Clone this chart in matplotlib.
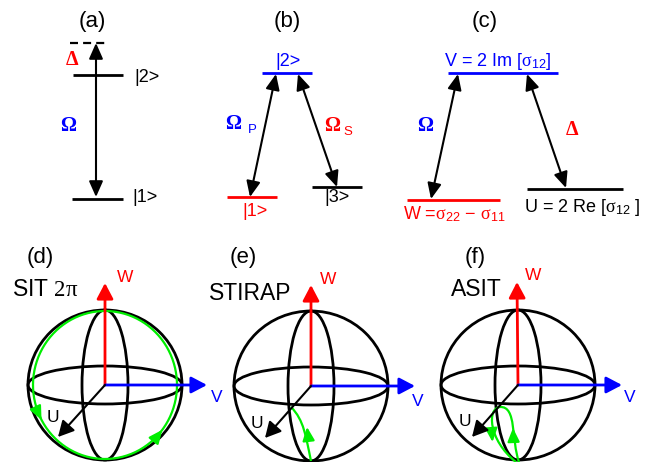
import numpy as np
import matplotlib.pyplot as plt
from matplotlib.patches import Ellipse, PathPatch
from matplotlib.path import Path

plt.rcParams['font.family'] = ['Liberation Sans', 'DejaVu Sans']
plt.rcParams['mathtext.fontset'] = 'custom'
plt.rcParams['mathtext.rm'] = 'Liberation Serif'
plt.rcParams['mathtext.sf'] = 'Liberation Sans'
plt.rcParams['mathtext.it'] = 'Liberation Serif:italic'
plt.rcParams['mathtext.bf'] = 'Liberation Serif:bold'

RED, BLUE, GREEN = '#ff0000', '#0000ff', '#00ee00'
SERIF = 'Liberation Serif'

# ---- level schemes (a), (b), (c): x start, x end, y, colour
levels = [
    (73, 123, 75, 'k'), (72, 123, 199, 'k'),
    (262, 312, 73, BLUE), (227, 277, 197, RED), (312, 362, 187, 'k'),
    (448, 558, 73, BLUE), (407, 500, 200, RED), (527, 623, 189, 'k'),
]
detuned_level = (70, 108, 43)

# double-headed couplings: upper end, lower end
couplings = [
    ((96, 43), (96, 197)),
    ((276, 74), (250, 197)), ((298, 74), (337, 187)),
    ((458, 74), (431, 199)), ((527, 74), (566, 188)),
]

panel_titles = [('(a)', 92, 21), ('(b)', 287, 22), ('(c)', 485, 22),
                ('(d)', 40, 258), ('(e)', 243, 258), ('(f)', 475, 258)]

state_labels = [
    ('|2>', 147, 77, 'k'), ('|1>', 145, 198, 'k'),
    ('|2>', 288, 62, BLUE), ('|1>', 255, 212, RED), ('|3>', 337, 198, 'k'),
    (r'V = 2 Im [$\mathrm{\sigma}_{\mathsf{12}}$]', 498, 61, BLUE),
    (r'W =$\mathrm{\sigma}_{\mathsf{22}}$ − $\mathrm{\sigma}_{\mathsf{11}}$', 454, 214, RED),
    (r'U = 2 Re [$\mathrm{\sigma}_{\mathsf{12}}$ ]', 582, 207, 'k'),
]

greek_labels = [
    ('Δ', 72, 60, RED), ('Ω', 68, 126, BLUE),
    ('Ω', 233, 124, BLUE), ('Ω', 332, 126, RED),
    ('Ω', 425, 126, BLUE), ('Δ', 572, 130, RED),
]
subscripts = [('P', 252, 130, BLUE), ('S', 348, 132, RED)]

# ---- Bloch spheres (d), (e), (f)
schemes = [('SIT $\\mathrm{2\\pi}$', 45, 290), ('STIRAP', 250, 293), ('ASIT', 476, 289)]
sphere_centers = [(105, 385), (311, 386), (518, 385)]
sphere_rx, sphere_ry = 77, 75
equator_ry = 19
meridian_rx = 23
w_tips = [(105, 283), (311, 285), (517, 282)]
v_tips = [(207, 385), (415, 386), (622, 385)]
u_tips = [(58, 437), (265, 438), (472, 437)]
w_labels = [(125, 278), (328, 280), (533, 275)]
v_labels = [(217, 398), (418, 401), (630, 397)]
u_labels = [(53, 417), (257, 423), (465, 422)]

# SIT 2pi: full loop through the poles
sit_center, sit_rx, sit_ry = (105, 385), 72, 74
sit_arrow_t = [2.65, 0.65]

# STIRAP: bottom pole -> (U) axis
stirap_path = [(311, 461), (306, 437), (304, 420), (291, 407)]
stirap_arrow = ((308.5, 440), (307, 427))

# ASIT: excursion and return
asit_path = [(519, 462), (511, 440), (517, 406), (500, 407),
             (487, 408), (488, 440), (516, 462)]
asit_arrows = [((513.5, 440), (513, 428)), ((491.5, 430), (492.5, 442))]

fig = plt.figure(figsize=(6.47, 4.62), dpi=100)
ax = fig.add_axes([0, 0, 1, 1])
ax.set_xlim(0, 647)
ax.set_ylim(462, 0)
ax.axis('off')

for x0, x1, y, c in levels:
    ax.plot([x0, x1], [y, y], color=c, lw=2, solid_capstyle='butt')
x0, x1, y = detuned_level
ax.plot([x0, x1], [y, y], color='k', lw=1.6, dashes=(3.6, 2.3),
        dash_capstyle='butt')

for top, bot in couplings:
    ax.annotate('', xy=bot, xytext=top,
                arrowprops=dict(arrowstyle='<|-|>,head_length=0.95,head_width=0.42',
                                mutation_scale=10, color='k', lw=1.5,
                                shrinkA=0, shrinkB=0))

for s, x, y in panel_titles:
    ax.text(x, y, s, fontsize=16, ha='center', va='center')
for s, x, y, c in state_labels:
    ax.text(x, y, s, fontsize=13, color=c, ha='center', va='center')
for s, x, y, c in greek_labels:
    ax.text(x, y, s, fontsize=14.5, color=c, ha='center', va='center',
            family=SERIF, weight='bold')
for s, x, y, c in subscripts:
    ax.text(x, y, s, fontsize=9.5, color=c, ha='center', va='center')

for s, x, y in schemes:
    ax.text(x, y, s, fontsize=16.5, ha='center', va='center')

for (cx, cy) in sphere_centers:
    for w, h in [(2 * sphere_rx, 2 * sphere_ry), (2 * sphere_rx, 2 * equator_ry),
                 (2 * meridian_rx, 2 * sphere_ry)]:
        ax.add_patch(Ellipse((cx, cy), w, h, fill=False, ec='k', lw=2))

# green trajectories
t = np.linspace(0, 2 * np.pi, 300)
ax.plot(sit_center[0] + sit_rx * np.cos(t), sit_center[1] + sit_ry * np.sin(t),
        color=GREEN, lw=1.6)
green_head = dict(arrowstyle='-|>,head_length=0.9,head_width=0.4',
                  mutation_scale=9, color=GREEN, lw=1.6, shrinkA=0, shrinkB=0)
for ta in sit_arrow_t:
    p1 = (sit_center[0] + sit_rx * np.cos(ta), sit_center[1] + sit_ry * np.sin(ta))
    p0 = (sit_center[0] + sit_rx * np.cos(ta + 0.06), sit_center[1] + sit_ry * np.sin(ta + 0.06))
    ax.annotate('', xy=p1, xytext=p0, arrowprops=green_head)

ax.add_patch(PathPatch(Path(stirap_path, [Path.MOVETO] + [Path.CURVE4] * 3),
                       fill=False, ec=GREEN, lw=1.6))
ax.annotate('', xy=stirap_arrow[1], xytext=stirap_arrow[0], arrowprops=green_head)

ax.add_patch(PathPatch(Path(asit_path, [Path.MOVETO] + [Path.CURVE4] * 6),
                       fill=False, ec=GREEN, lw=1.6))
for p0, p1 in asit_arrows:
    ax.annotate('', xy=p1, xytext=p0, arrowprops=green_head)

# Bloch vector axes
axis_head = dict(arrowstyle='-|>,head_length=0.95,head_width=0.5',
                 mutation_scale=10, lw=2, shrinkA=0, shrinkB=0)
for i, (cx, cy) in enumerate(sphere_centers):
    ax.annotate('', xy=w_tips[i], xytext=(cx, cy), arrowprops=dict(axis_head, color=RED))
    ax.annotate('', xy=v_tips[i], xytext=(cx, cy), arrowprops=dict(axis_head, color=BLUE))
    ax.annotate('', xy=u_tips[i], xytext=(cx, cy),
                arrowprops=dict(axis_head, color='k', lw=1.5))
    ax.text(*w_labels[i], 'W', fontsize=12.5, color=RED, ha='center', va='center')
    ax.text(*v_labels[i], 'V', fontsize=12.5, color=BLUE, ha='center', va='center')
    ax.text(*u_labels[i], 'U', fontsize=12.5, color='k', ha='center', va='center')

fig.savefig('out.png', dpi=100)
